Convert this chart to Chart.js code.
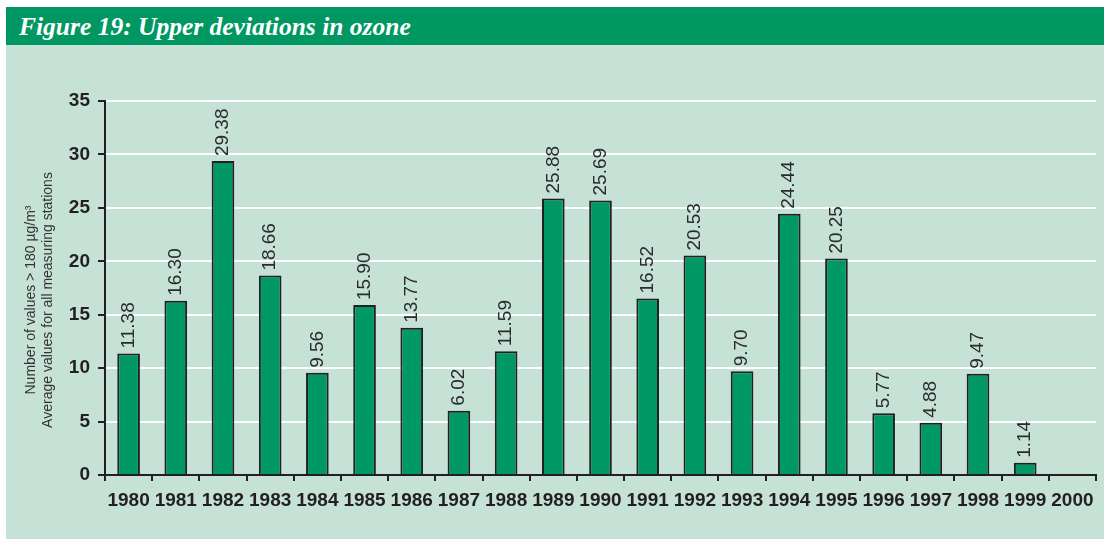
<!DOCTYPE html>
<html><head><meta charset="utf-8">
<script src="https://cdn.jsdelivr.net/npm/chart.js@4.4.0/dist/chart.umd.min.js"></script>
<style>
html,body{margin:0;padding:0;background:#fff;width:1104px;height:539px;overflow:hidden;}
#head{position:absolute;left:6px;top:7px;width:1098px;height:38px;background:#009763;color:#fff;font:italic bold 25.5px "Liberation Serif",serif;line-height:40px;padding-left:13px;box-sizing:border-box;white-space:nowrap;}
#panel{position:absolute;left:6px;top:45px;width:1098px;height:494px;background:#c6e2d6;}
#wrap{position:absolute;left:0;top:0;width:1104px;height:539px;}
</style></head><body>
<div id="head">Figure 19: Upper deviations in ozone</div>
<div id="panel"></div>
<div id="wrap"><canvas id="c" width="1104" height="539"></canvas></div>
<script>
const years = ["1980","1981","1982","1983","1984","1985","1986","1987","1988","1989","1990","1991","1992","1993","1994","1995","1996","1997","1998","1999","2000"];
const values = [11.38,16.30,29.38,18.66,9.56,15.90,13.77,6.02,11.59,25.88,25.69,16.52,20.53,9.70,24.44,20.25,5.77,4.88,9.47,1.14,null];
const yMin = 0, yMax = 35, yStep = 5;
const yTitleLines = ["Number of values > 180 µg/m³", "Average values for all measuring stations"];

const dark = '#231f20';

const labelPlugin = {
  id: 'barLabels',
  afterDatasetsDraw(chart) {
    const ctx = chart.ctx;
    const meta = chart.getDatasetMeta(0);
    ctx.save();
    ctx.font = '19px "Liberation Sans", Arial, sans-serif';
    ctx.fillStyle = '#2b2b2b';
    ctx.textAlign = 'left';
    ctx.textBaseline = 'middle';
    meta.data.forEach((bar, i) => {
      if (values[i] == null) return;
      ctx.save();
      ctx.translate(bar.x, bar.y - 5);
      ctx.rotate(-Math.PI / 2);
      ctx.fillText(values[i].toFixed(2), 0, 0);
      ctx.restore();
    });
    ctx.restore();
  }
};

const yTitlePlugin = {
  id: 'yTitle',
  afterDraw(chart) {
    const ctx = chart.ctx;
    const mid = (chart.chartArea.top + chart.chartArea.bottom) / 2 + 12;
    ctx.save();
    ctx.font = '14px "Liberation Sans", Arial, sans-serif';
    ctx.fillStyle = '#333';
    ctx.textAlign = 'center';
    ctx.textBaseline = 'middle';
    const pos = [[31, mid], [48, mid]];
    yTitleLines.forEach((t, i) => {
      ctx.save();
      ctx.translate(pos[i][0], pos[i][1]);
      ctx.rotate(-Math.PI / 2);
      ctx.fillText(t, 0, 0);
      ctx.restore();
    });
    ctx.restore();
  }
};

new Chart(document.getElementById('c'), {
  type: 'bar',
  data: {
    labels: years,
    datasets: [{
      data: values,
      backgroundColor: '#009966',
      borderColor: dark,
      borderWidth: 2,
      borderSkipped: 'start',
      categoryPercentage: 1,
      barPercentage: 0.48
    }]
  },
  options: {
    responsive: false,
    animation: false,
    devicePixelRatio: 1,
    layout: { padding: { top: 101, right: 8, left: 0, bottom: 0 } },
    plugins: { legend: { display: false }, tooltip: { enabled: false }, title: { display: false } },
    scales: {
      x: {
        afterFit(s) { s.height = 64; },
        grid: { display: true, offset: true, drawOnChartArea: false, color: dark, tickColor: dark, tickLength: 6, lineWidth: 2 },
        border: { display: true, color: dark, width: 2 },
        ticks: { color: dark, padding: 8, font: { family: '"Liberation Sans", Arial, sans-serif', size: 19, weight: 'bold' }, maxRotation: 0, autoSkip: false }
      },
      y: {
        min: yMin, max: yMax,
        afterFit(s) { s.width = 105; },
        grid: { color: (c) => (c.tick && c.tick.value === 0 ? 'rgba(0,0,0,0)' : '#ffffff'), tickColor: dark, tickLength: 7, lineWidth: 2 },
        border: { display: true, color: dark, width: 2 },
        ticks: { stepSize: yStep, color: dark, padding: 8, font: { family: '"Liberation Sans", Arial, sans-serif', size: 19, weight: 'bold' } }
      }
    }
  },
  plugins: [labelPlugin, yTitlePlugin]
});
</script>
</body></html>
